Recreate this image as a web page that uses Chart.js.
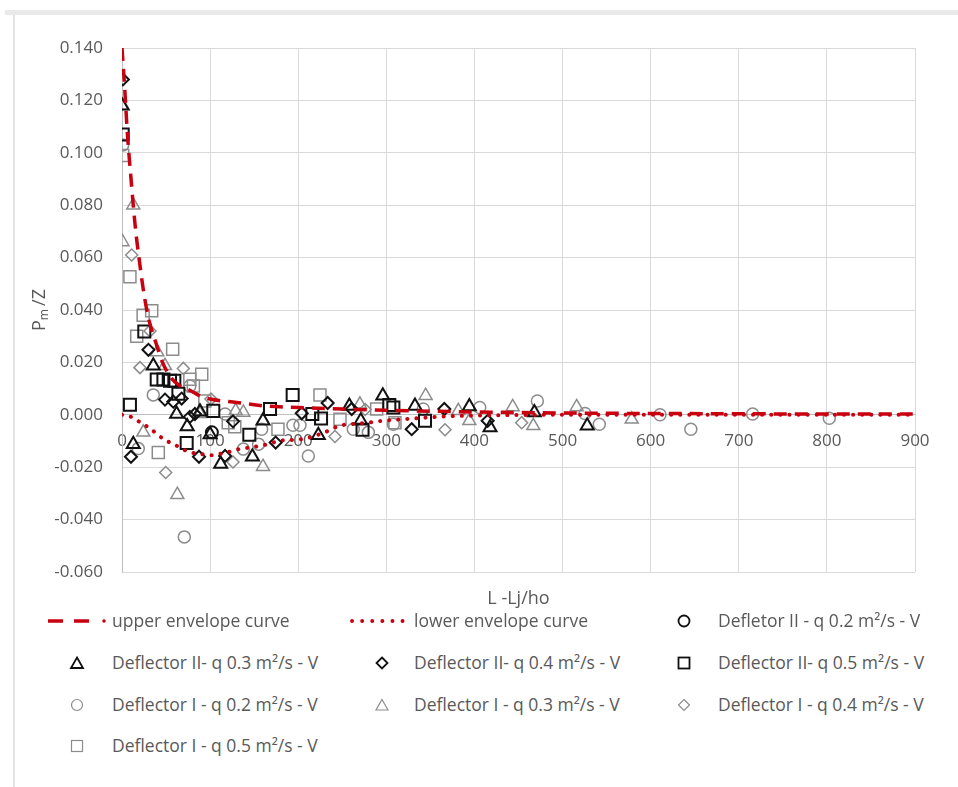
<!DOCTYPE html>
<html><head><meta charset="utf-8">
<script src="https://cdn.jsdelivr.net/npm/chart.js@4"></script>
<style>
html,body{margin:0;padding:0;background:#fff;}
body{width:958px;height:787px;position:relative;overflow:hidden;font-family:"Open Sans",sans-serif;}
#topband{position:absolute;left:5px;top:10px;width:953px;height:5px;background:#e9e9e9;}
#leftline{position:absolute;left:13px;top:15px;width:2px;height:772px;background:#e2e2e2;}
#c{position:absolute;left:0;top:0;}
.lg{position:absolute;color:#595959;font-size:17.5px;line-height:22px;white-space:nowrap;}
.mk{position:absolute;line-height:0;}
.mk svg{display:block;}
</style></head><body>
<div id="topband"></div><div id="leftline"></div>
<canvas id="c" width="958" height="610"></canvas>
<div id="legend"></div>
<script>
// ---- axis ticks ----
const xTickMin = 0, xTickMax = 900, xTickStep = 100;
const yTickMin = -0.06, yTickMax = 0.14, yTickStep = 0.02;
const xTitle = 'L -Lj/ho';

// ---- envelope curves ----
const upperX = [0, 3, 6, 10, 15, 20, 25, 30, 38, 46, 56, 66, 76, 90, 100, 130, 165, 200, 250, 300, 400, 500, 600, 700, 800, 900];
const upperY = [0.140, 0.125, 0.108, 0.091, 0.072, 0.058, 0.046, 0.037, 0.028, 0.020, 0.014, 0.011, 0.0095, 0.007, 0.006, 0.0047, 0.0033, 0.0028, 0.0022, 0.0017, 0.0011, 0.0007, 0.0005, 0.0004, 0.0003, 0.0003];
const lowerX = [0, 12, 21, 31, 40, 49, 59, 68, 79, 90, 102, 113, 123, 134, 145, 157, 168, 179, 204, 230, 247, 274, 296, 331, 368, 420, 500, 600, 700, 800, 900];
const lowerY = [0, -0.001, -0.003, -0.005, -0.0074, -0.0097, -0.0112, -0.013, -0.0144, -0.015, -0.0154, -0.0148, -0.014, -0.013, -0.0125, -0.0118, -0.011, -0.0099, -0.0093, -0.0067, -0.0042, -0.0032, -0.0023, -0.0014, -0.0006, -0.0002, 0, 0, 0, 0, 0];

// ---- measured points [L-Lj/ho, Pm/Z] ----
const defII_q02 = [[102, -0.0067]];
const defII_q03 = [[0, 0.118], [12.8, -0.0112], [35.5, 0.0187], [62, 0.0003], [74, -0.0045], [88.5, 0.0012], [100, -0.0075], [112, -0.0188], [148, -0.016], [160, -0.0023], [222.8, -0.0078], [258, 0.0034], [271, -0.0023], [296, 0.0073], [332.5, 0.0034], [394.2, 0.0032], [417.7, -0.0048], [468, 0.0009], [528, -0.0042]];
const defII_q04 = [[1, 0.128], [10.2, -0.016], [30, 0.0248], [48.8, 0.0058], [58.2, 0.005], [67.7, 0.0062], [77, -0.0008], [82.8, 0.0003], [87.4, -0.016], [117, -0.0157], [126, -0.0025], [174.4, -0.0106], [204, 0.0006], [233.4, 0.0045], [260.7, 0.0022], [328.8, -0.0055], [365.8, 0.0022], [415, -0.0023]];
const defII_q05 = [[0.8, 0.107], [9, 0.0038], [25.3, 0.0318], [39.4, 0.0135], [47, 0.0135], [54.5, 0.013], [59.4, 0.013], [64, 0.008], [73.4, -0.0108], [103.6, 0.0015], [144.5, -0.0076], [168, 0.0022], [193.7, 0.0076], [216, 0.0003], [225.9, -0.0014], [273, -0.0057], [303.4, 0.0037], [308, 0.0028], [343.9, -0.0023]];
const defI_q02 = [[0.8, 0.103], [35.5, 0.0076], [77, 0.011], [18.5, -0.0129], [70.7, -0.0466], [117, 0.0003], [137.7, -0.0131], [155, -0.0112], [158.5, -0.0055], [194, -0.004], [202, -0.004], [211.5, -0.0157], [262.5, -0.0055], [279.6, -0.0067], [308, -0.0036], [341.9, 0.0022], [406, 0.0028], [471.4, 0.0053], [525.5, 0.0005], [541.7, -0.0036], [610.6, 0.0], [645.6, -0.0055], [715.7, 0.0003], [802.7, -0.0013]];
const defI_q03 = [[0.8, 0.118], [0.5, 0.066], [12.8, 0.080], [24.2, -0.0067], [40, 0.024], [48.8, 0.0187], [62.8, -0.0305], [88.5, 0.0004], [129, 0.0015], [137.7, 0.0009], [160, -0.0198], [270, 0.004], [344.6, 0.0073], [381.7, 0.0015], [394.2, -0.0023], [443.4, 0.003], [466.8, -0.0042], [516, 0.003], [578.5, -0.0017]];
const defI_q04 = [[11, 0.061], [31.8, 0.032], [20.4, 0.018], [69.6, 0.0177], [49.6, -0.022], [126, -0.018], [241.7, -0.0083], [366.6, -0.0057], [453.6, -0.003], [101, 0.006], [276, 0.002]];
const defI_q05 = [[0.8, 0.099], [9, 0.0527], [33.7, 0.0397], [24, 0.038], [16.7, 0.030], [57.5, 0.025], [77, 0.0136], [90.5, 0.0155], [81, 0.011], [94, 0.0053], [41.2, -0.0144], [120.6, -0.003], [128, -0.0046], [177, -0.0055], [224.7, 0.0076], [247.4, -0.0017], [289, 0.0022], [309.8, -0.003]];

const labels = ['upper envelope curve', 'lower envelope curve', 'Defletor II - q 0.2 m²/s - V',
  'Deflector II- q 0.3 m²/s - V', 'Deflector II- q 0.4 m²/s - V', 'Deflector II- q 0.5 m²/s - V',
  'Deflector I - q 0.2 m²/s - V', 'Deflector I - q 0.3 m²/s - V', 'Deflector I - q 0.4 m²/s - V',
  'Deflector I - q 0.5 m²/s - V'];

const RED = '#c8000f', BLACK = '#111111', GRAY = '#8c8c8c', TXT = '#595959';
const toXY = (xs, ys) => xs.map((x, i) => ({x: x, y: ys[i]}));
const toPts = arr => arr.map(p => ({x: p[0], y: p[1]}));
const radius = {circle: 6, triangle: 7.5, rectRot: 6, rect: 8.5};
function marker(label, pts, style, col, bw) {
  return {label: label, data: toPts(pts), pointStyle: style, pointRadius: radius[style],
    pointBorderColor: col, pointBackgroundColor: 'rgba(0,0,0,0)', pointBorderWidth: bw,
    borderColor: col, backgroundColor: 'rgba(0,0,0,0)', showLine: false};
}

const datasets = [
  {label: labels[0], data: toXY(upperX, upperY), showLine: true, borderColor: RED, borderWidth: 3.5,
   borderDash: [13, 8], pointRadius: 0, cubicInterpolationMode: 'monotone', fill: false},
  {label: labels[1], data: toXY(lowerX, lowerY), showLine: true, borderColor: RED, borderWidth: 4,
   borderDash: [0.1, 9], borderCapStyle: 'round', pointRadius: 0, cubicInterpolationMode: 'monotone', fill: false},
  marker(labels[2], defII_q02, 'circle', BLACK, 2),
  marker(labels[3], defII_q03, 'triangle', BLACK, 2),
  marker(labels[4], defII_q04, 'rectRot', BLACK, 2),
  marker(labels[5], defII_q05, 'rect', BLACK, 2),
  marker(labels[6], defI_q02, 'circle', GRAY, 1.5),
  marker(labels[7], defI_q03, 'triangle', GRAY, 1.5),
  marker(labels[8], defI_q04, 'rectRot', GRAY, 1.5),
  marker(labels[9], defI_q05, 'rect', GRAY, 1.5)
];

const yTitlePlugin = {
  id: 'yTitle',
  afterDraw(chart) {
    const ctx = chart.ctx;
    const cy = (chart.chartArea.top + chart.chartArea.bottom) / 2;
    ctx.save();
    ctx.translate(40, cy);
    ctx.rotate(-Math.PI / 2);
    ctx.fillStyle = TXT;
    ctx.textBaseline = 'middle';
    ctx.font = '18px "Open Sans"';
    const wP = ctx.measureText('P').width;
    ctx.font = '12px "Open Sans"';
    const wm = ctx.measureText('m ').width;
    ctx.font = '18px "Open Sans"';
    const wZ = ctx.measureText('/Z').width;
    let x = -(wP + wm + wZ) / 2;
    ctx.textAlign = 'left';
    ctx.fillText('P', x, 0);
    x += wP;
    ctx.font = '12px "Open Sans"';
    ctx.fillText('m ', x, 5);
    x += wm;
    ctx.font = '18px "Open Sans"';
    ctx.fillText('/Z', x, 0);
    ctx.restore();
  }
};

new Chart(document.getElementById('c'), {
  type: 'scatter',
  data: {datasets: datasets},
  plugins: [yTitlePlugin],
  options: {
    responsive: false, animation: false,
    layout: {padding: {top: 48, right: 43, left: 0, bottom: 0}},
    plugins: {legend: {display: false}, tooltip: {enabled: false}},
    scales: {
      x: {type: 'linear', position: {y: 0}, min: xTickMin, max: xTickMax,
        ticks: {stepSize: xTickStep, color: TXT, font: {size: 17, family: 'Open Sans'}, padding: 16, maxRotation: 0, autoSkip: false},
        grid: {color: '#d9d9d9', drawTicks: false}, border: {color: '#bfbfbf', width: 1}},
      x2: {type: 'linear', position: 'bottom', min: xTickMin, max: xTickMax,
        grid: {display: false}, border: {display: false}, ticks: {display: false},
        title: {display: true, text: xTitle, color: TXT, font: {size: 18, family: 'Open Sans'}, padding: {top: 6, bottom: 0}},
        afterFit(s) { s.height = 38; }},
      y: {type: 'linear', position: 'left', min: yTickMin, max: yTickMax,
        ticks: {stepSize: yTickStep, color: TXT, font: {size: 17, family: 'Open Sans'}, padding: 19,
          callback: v => v.toFixed(3)},
        grid: {color: '#d9d9d9', drawTicks: false}, border: {color: '#bfbfbf', width: 1},
        afterFit(s) { s.width = 122; }}
    }
  }
});

// ---- HTML legend (3 columns) ----
const legendCols = [[48, 112], [350, 414], [666, 718]];
const legendRows = [621, 663, 705, 746];
const legend = document.getElementById('legend');
function svgMarker(style, col, bw) {
  const s = 16, c = 8;
  let shape = '';
  if (style === 'circle') shape = `<circle cx="${c}" cy="${c}" r="5.5" fill="none" stroke="${col}" stroke-width="${bw}"/>`;
  if (style === 'triangle') shape = `<polygon points="${c},2.5 ${c+6},13 ${c-6},13" fill="none" stroke="${col}" stroke-width="${bw}"/>`;
  if (style === 'rectRot') shape = `<polygon points="${c},2.5 ${c+5.5},${c} ${c},13.5 ${c-5.5},${c}" fill="none" stroke="${col}" stroke-width="${bw}"/>`;
  if (style === 'rect') shape = `<rect x="2.5" y="2.5" width="11" height="11" fill="none" stroke="${col}" stroke-width="${bw}"/>`;
  return `<svg width="${s}" height="${s}">${shape}</svg>`;
}
datasets.forEach((ds, i) => {
  const col = i % 3, row = Math.floor(i / 3);
  const cy = legendRows[row];
  const t = document.createElement('div');
  t.className = 'lg';
  t.style.left = legendCols[col][1] + 'px';
  t.style.top = (cy - 12) + 'px';
  t.textContent = ds.label;
  legend.appendChild(t);
  const m = document.createElement('div');
  m.className = 'mk';
  if (i === 0) {
    m.style.left = '46px'; m.style.top = (cy - 4) + 'px';
    m.innerHTML = `<svg width="64" height="8"><line x1="2" y1="4" x2="17" y2="4" stroke="${RED}" stroke-width="3.5"/><line x1="28" y1="4" x2="43" y2="4" stroke="${RED}" stroke-width="3.5"/><circle cx="58" cy="4" r="1.8" fill="${RED}"/></svg>`;
  } else if (i === 1) {
    m.style.left = '348px'; m.style.top = (cy - 4) + 'px';
    m.innerHTML = `<svg width="62" height="8"><line x1="4" y1="4" x2="58" y2="4" stroke="${RED}" stroke-width="3.8" stroke-linecap="round" stroke-dasharray="0.1 10"/></svg>`;
  } else {
    const cx = col === 0 ? 77 : (col === 1 ? 382 : 684);
    m.style.left = (cx - 8) + 'px'; m.style.top = (cy - 8) + 'px';
    m.innerHTML = svgMarker(ds.pointStyle, ds.pointBorderColor, ds.pointBorderWidth === 2 ? 1.8 : 1.2);
  }
  legend.appendChild(m);
});
</script>
</body></html>
